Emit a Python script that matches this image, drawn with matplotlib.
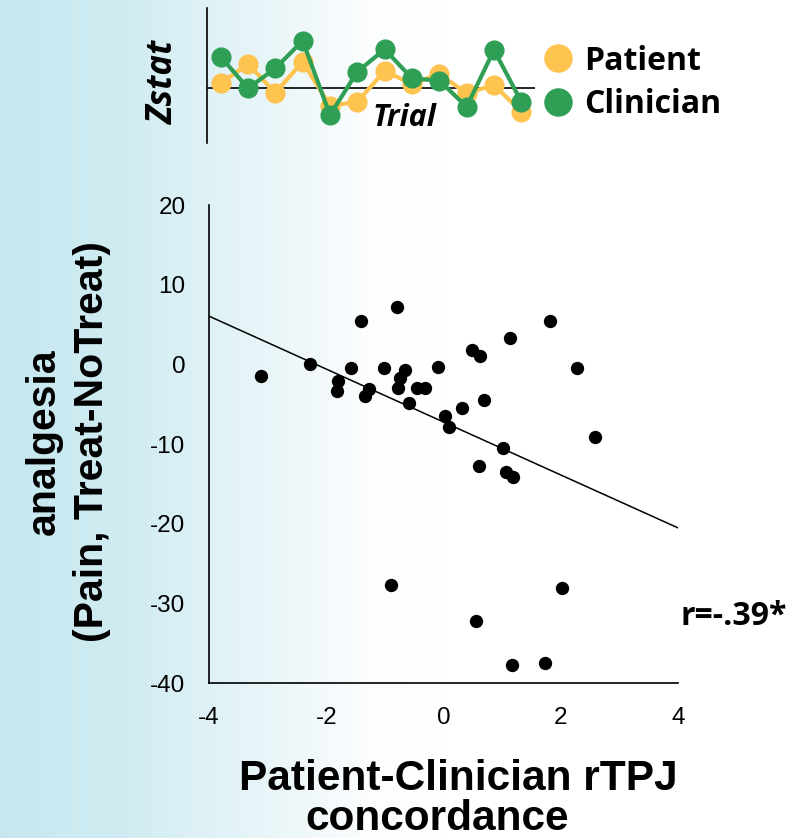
import numpy as np
import matplotlib
matplotlib.use("Agg")
import matplotlib.pyplot as plt
from matplotlib.colors import LinearSegmentedColormap

# scatter: rTPJ concordance vs analgesia
concordance = [-3.11, -2.27, -1.41, -0.80, -1.58, -1.80, -1.81, -1.27, -1.34, -1.02,
               -0.66, -0.75, -0.78, -0.45, -0.31, -0.58, -0.10, 0.03, 0.09, 0.32,
               0.49, 0.63, 0.69, 0.60, 1.81, 1.13, 2.28, 1.02, 1.07, 1.18,
               2.59, -0.90, 2.02, 0.55, 1.17, 1.73]
analgesia = [-1.5, 0.0, 5.5, 7.2, -0.5, -2.1, -3.3, -3.1, -4.0, -0.5,
             -0.7, -1.7, -3.0, -2.9, -2.9, -4.8, -0.3, -6.5, -7.8, -5.5,
             1.8, 1.0, -4.5, -12.8, 5.5, 3.3, -0.5, -10.5, -13.5, -14.1,
             -9.1, -27.7, -28.1, -32.2, -37.7, -37.4]

# inset: zstat per trial
trials = list(range(1, 13))
patient_z = [0.5, 2.43, -0.44, 2.66, -1.77, -1.34, 1.73, 0.43, 1.43, -0.5, 0.33, -2.34]
clinician_z = [3.16, 0.0, 2.0, 4.76, -2.67, 1.66, 3.9, 1.0, 0.76, -1.84, 3.83, -1.34]

xticks = [-4, -2, 0, 2, 4]
yticks = [20, 10, 0, -10, -20, -30, -40]

ORANGE = "#FFC34F"
GREEN = "#2F9F55"
W, H = 805, 838

fig = plt.figure(figsize=(W / 100, H / 100), dpi=100)

# background gradient
bg = fig.add_axes([0, 0, 1, 1], zorder=-10)
cmap = LinearSegmentedColormap.from_list(
    "bg", [(0.0, "#C6E7EF"), (0.15, "#D0ECF2"), (0.28, "#E2F3F7"),
           (0.38, "#F0F8FA"), (0.45, "#FBFDFE"), (0.55, "#FFFFFF"), (1.0, "#FFFFFF")])
bg.imshow(np.linspace(0, 1, 400)[None, :], aspect="auto", cmap=cmap,
          extent=[0, 1, 0, 1])
bg.set_axis_off()


def fx(px):
    return px / W


def fy(py):
    return 1 - py / H


# main scatter
ax = fig.add_axes([fx(209), fy(683.3), fx(678) - fx(209), fy(205) - fy(683.3)])
ax.set_facecolor("none")
ax.scatter(concordance, analgesia, s=92, color="black", zorder=3, linewidths=0)
slope, intercept = np.polyfit(concordance, analgesia, 1)
xl = np.array([-4, 4])
ax.plot(xl, intercept + slope * xl, color="black", lw=1.1)
ax.set_xlim(-4, 4)
ax.set_ylim(-40, 20)
ax.set_xticks(xticks)
ax.set_yticks(yticks)
ax.set_xticklabels([str(t) for t in xticks], family="Liberation Sans", fontsize=17.5)
ax.set_yticklabels([str(t) for t in yticks], family="Liberation Sans", fontsize=17.5)
ax.tick_params(length=0, pad=17)
for s in ["top", "right"]:
    ax.spines[s].set_visible(False)
for s in ["left", "bottom"]:
    ax.spines[s].set_linewidth(1.2)

# inset zstat
ins = fig.add_axes([fx(207), fy(143), fx(535) - fx(207), fy(8) - fy(143)])
ins.set_facecolor("none")
ins.axhline(0, color="black", lw=1.2)
ins.plot(trials, patient_z, color=ORANGE, lw=3, marker="o", ms=13.5, zorder=2)
ins.plot(trials, clinician_z, color=GREEN, lw=3, marker="o", ms=13.5, zorder=3)
ins.set_xlim(0.5, 12.5)
ins.set_ylim(-5.47, 8.03)
ins.set_xticks([])
ins.set_yticks([])
for s in ["top", "right", "bottom"]:
    ins.spines[s].set_visible(False)
ins.spines["left"].set_linewidth(1.2)

calibri = ["Open Sans", "DejaVu Sans"]
fig.text(fx(173), fy(82.5), "Zstat", rotation=90, rotation_mode="anchor",
         ha="center", va="baseline", family=calibri, weight="bold",
         style="italic", fontsize=25)
fig.text(fx(404), fy(126.5), "Trial", ha="center", va="baseline", family=calibri,
         weight="bold", style="italic", fontsize=22)

# legend
fig.lines.append(plt.Line2D([fx(558)], [fy(58)], marker="o", ms=19.5, color=ORANGE,
                            transform=fig.transFigure, linestyle="none"))
fig.lines.append(plt.Line2D([fx(558)], [fy(102)], marker="o", ms=19.5, color=GREEN,
                            transform=fig.transFigure, linestyle="none"))
fig.text(fx(584), fy(70), "Patient", ha="left", va="baseline", family=calibri,
         weight="bold", fontsize=23)
fig.text(fx(584), fy(113), "Clinician", ha="left", va="baseline", family=calibri,
         weight="bold", fontsize=23)

# axis labels
fig.text(fx(55), fy(442), "analgesia", rotation=90, rotation_mode="anchor",
         ha="center", va="baseline", family="Liberation Sans", weight="bold",
         fontsize=29.5)
fig.text(fx(103), fy(442), "(Pain, Treat-NoTreat)", rotation=90, rotation_mode="anchor",
         ha="center", va="baseline", family="Liberation Sans", weight="bold",
         fontsize=29.5)
fig.text(fx(458), fy(790), "Patient-Clinician rTPJ", ha="center", va="baseline",
         family="Liberation Sans", weight="bold", fontsize=30.5)
fig.text(fx(437), fy(830), "concordance", ha="center", va="baseline",
         family="Liberation Sans", weight="bold", fontsize=30.5)

fig.text(fx(680), fy(625), "r=-.39*", ha="left", va="baseline", family=calibri,
         weight="bold", fontsize=23)

fig.savefig("out.png", dpi=100)
